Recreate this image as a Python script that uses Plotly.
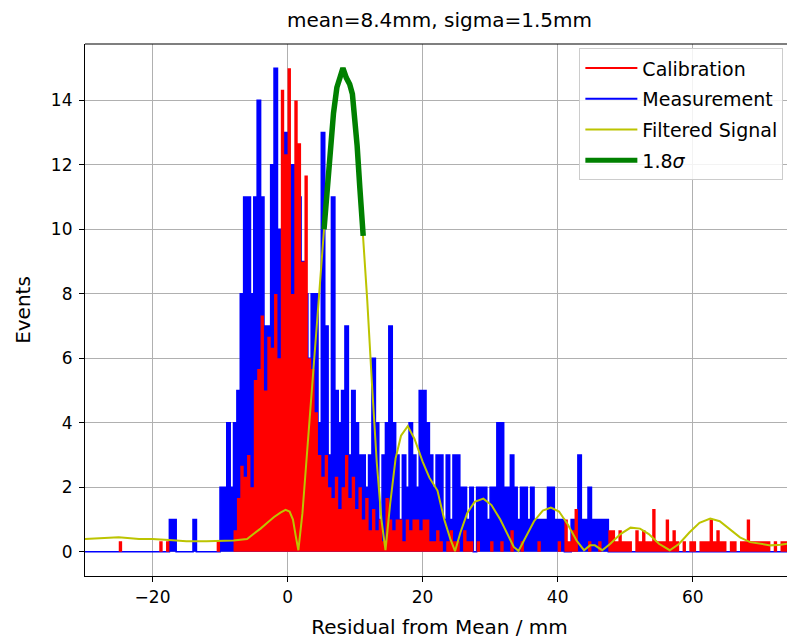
import numpy as np
import plotly.graph_objects as go

# ---------------- data ----------------
BIN_W = 0.5

# Measurement histogram counts, bins of 0.5 mm starting at -18.0 mm
meas_start = -18.0
meas_counts = [
    0, 1, 1, 0, 0, 0, 0, 0, 1, 0,            # -18.0 .. -13.5
    0, 0, 0, 0, 0, 0, 2, 2, 4, 2,            # -13.0 .. -8.5
    4, 5, 8, 11, 11, 8, 11, 14, 11, 7,       # -8.0 .. -3.5
    7, 12, 15, 10, 6, 13, 11, 12, 12, 11,    # -3.0 .. 1.5
    9, 8, 6, 8, 8, 4, 13, 7, 3, 11,          # 2.0 .. 6.5
    5, 4, 5, 7, 3, 5, 4, 3, 3, 2,            # 7.0 .. 11.5
    3, 6, 4, 1, 3, 4, 7, 4, 3, 1,            # 12.0 .. 16.5
    3, 2, 4, 3, 2, 5, 5, 4, 3, 2,            # 17.0 .. 21.5
    3, 3, 1, 3, 1, 3, 3, 2, 2, 1,            # 22.0 .. 26.5
    2, 0, 2, 2, 2, 1, 2, 2, 4, 4,            # 27.0 .. 31.5
    2, 2, 3, 2, 1, 2, 2, 1, 2, 1,            # 32.0 .. 36.5
    1, 1, 1, 2, 2, 1, 1, 1, 0, 0,            # 37.0 .. 41.5
    1, 1, 3, 1, 1, 2, 1, 1, 1, 1,            # 42.0 .. 46.5
    1,                                       # 47.0
]

# Calibration histogram (scaled), bins of 0.5 mm starting at -26.0 mm
cal_start = -26.0
cal_counts = [
    0, 0, 0.33, 0, 0, 0, 0, 0, 0, 0,                          # -26.0 .. -21.5
    0, 0, 0, 0, 0.33, 0, 0.33, 0, 0, 0,                       # -21.0 .. -16.5
    0, 0, 0, 0, 0, 0, 0, 0, 0, 0,                             # -16.0 .. -11.5
    0, 0.33, 0, 0, 0, 0, 0.67, 1.67, 2.67, 2.33,              # -11.0 .. -6.5
    3.0, 2.0, 5.33, 5.67, 7.33, 5.0, 6.67, 6.33, 8.0, 6.0,    # -6.0 .. -1.5
    14.33, 12.33, 15.0, 8.0, 14.0, 12.67, 9.0, 11.67, 6.0, 5.67,  # -1.0 .. 3.5
    4.33, 3.0, 2.33, 3.0, 2.0, 1.67, 2.33, 1.33, 2.0, 3.0,    # 4.0 .. 8.5
    1.67, 2.33, 1.33, 2.0, 1.0, 1.67, 0.67, 1.33, 0.67, 1.0,  # 9.0 .. 13.5
    0.33, 1.67, 1.0, 0.67, 1.0, 1.0, 0.33, 1.0, 0.67, 1.0,    # 14.0 .. 18.5
    1.0, 0.67, 1.0, 1.0, 0.33, 0.33, 0.67, 0.33, 0, 0.33,     # 19.0 .. 23.5
    0.67, 0.33, 0.33, 0, 0.67, 0.33, 0.33, 0, 0.33, 0,        # 24.0 .. 28.5
    0, 0, 0.33, 0, 0, 0.33, 0, 0, 0.67, 0,                    # 29.0 .. 33.5
    0, 0.33, 0, 0, 0, 0, 0.33, 0, 0, 0,                       # 34.0 .. 38.5
    0, 0, 0.33, 0, 1.0, 0.33, 0.67, 1.33, 0, 0,               # 39.0 .. 43.5
    0, 0.33, 0, 0, 0.33, 0, 0, 0.67, 0.67, 0.33,              # 44.0 .. 48.5
    0.67, 0.33, 0.33, 0.33, 0, 0.67, 0.33, 0.67, 0.33, 0.33,  # 49.0 .. 53.5
    1.33, 0.33, 0.33, 0.33, 1.0, 0.33, 0.67, 0.33, 0, 0.33,   # 54.0 .. 58.5
    0, 0.33, 0.33, 0, 0.33, 0.33, 0.33, 1.0, 0.33, 0.67,      # 59.0 .. 63.5
    0.33, 0.33, 0, 0.33, 0.33, 0, 0.33, 0.33, 1.0, 0.33,      # 64.0 .. 68.5
    0.33, 0.33, 0.33, 0.33, 0.33, 0, 0.33, 0, 0.33, 0.33,     # 69.0 .. 73.5
    0.33, 0.67, 0.33, 0.33,                                   # 74.0 .. 75.5
]

# Filtered signal curve
filt_x = [-30, -27, -25, -22, -20, -17, -15, -12, -10, -8, -6, -5, -4, -3, -2, -1,
          -0.3, 0.3, 0.8, 1.2, 1.6, 2.2, 2.8, 3.6, 4.5, 5.4, 5.9, 6.3, 6.8, 7.3, 7.8,
          8.2, 8.7, 9.2, 9.6, 10.0, 10.3, 10.7, 11.2, 11.8, 12.5, 13.2, 13.9, 14.5,
          15.2, 16.0, 16.8, 17.8, 18.8, 20.0, 21.0, 22.2, 23.2, 24.1, 24.8, 25.6,
          26.6, 27.7, 29.0, 30.2, 31.5, 32.6, 33.5, 34.2, 35.2, 36.5, 37.8, 39.0,
          40.2, 41.5, 42.8, 43.9, 44.8, 45.5, 46.6, 47.8, 49.3, 50.8, 52.2, 53.5,
          55.0, 56.6, 58.0, 59.5, 61.0, 62.6, 64.0, 65.5, 67.0, 68.5, 70.0, 71.5,
          73.0, 75.0]
filt_y = [0.40, 0.44, 0.45, 0.40, 0.40, 0.36, 0.33, 0.33, 0.35, 0.35, 0.40, 0.55,
          0.72, 0.90, 1.08, 1.22, 1.30, 1.25, 1.00, 0.50, 0.05, 1.20, 2.80, 4.90,
          7.50, 10.0, 11.3, 12.6, 13.6, 14.4, 14.8, 15.0, 14.7, 14.5, 14.2, 13.4,
          12.6, 11.3, 9.8, 7.8, 5.2, 2.8, 1.0, 0.05, 1.5, 2.9, 3.6, 3.9, 3.5, 2.8,
          2.3, 1.9, 1.0, 0.4, 0.02, 0.6, 1.2, 1.55, 1.65, 1.45, 1.0, 0.55, 0.15,
          0.03, 0.45, 0.95, 1.28, 1.37, 1.25, 0.85, 0.35, 0.05, 0.2, 0.2, 0.05,
          0.25, 0.55, 0.75, 0.72, 0.55, 0.25, 0.05, 0.25, 0.6, 0.9, 1.03, 0.95,
          0.7, 0.45, 0.3, 0.25, 0.2, 0.22, 0.28]

# 1.8 sigma window of the filtered signal
sigma_lo, sigma_hi = 5.4, 11.2

x_ticks = [-20, 0, 20, 40, 60]
y_ticks = [0, 2, 4, 6, 8, 10, 12, 14]

# ---------------- helpers ----------------
X_LO, X_HI = -30.0, 76.0


def step_xy(start, counts):
    n_left = int(round((start - X_LO) / BIN_W))
    full = [0] * n_left + list(counts)
    n_total = int(round((X_HI - X_LO) / BIN_W))
    full += [0] * max(n_total - len(full), 0)
    xs = X_LO + BIN_W * np.arange(len(full) + 1)
    ys = full + [full[-1]]
    return xs, ys


mx, my = step_xy(meas_start, meas_counts)
cx, cy = step_xy(cal_start, cal_counts)

fx = np.array(filt_x, dtype=float)
fy = np.array(filt_y, dtype=float)
mask = (fx >= sigma_lo) & (fx <= sigma_hi)

FONT = "DejaVu Sans, Liberation Sans, Arial, sans-serif"
YEL = "#bcc400"

fig = go.Figure()

fig.add_trace(go.Scatter(
    x=mx, y=my, mode="lines", line=dict(color="blue", width=1.6, shape="hv"),
    fill="tozeroy", fillcolor="blue", showlegend=False, hoverinfo="skip"))
fig.add_trace(go.Scatter(
    x=cx, y=cy, mode="lines", line=dict(color="red", width=0, shape="hv"),
    fill="tozeroy", fillcolor="red", showlegend=False, hoverinfo="skip"))
fig.add_trace(go.Scatter(
    x=fx, y=fy, mode="lines", line=dict(color=YEL, width=2),
    showlegend=False))
fig.add_trace(go.Scatter(
    x=fx[mask], y=fy[mask], mode="lines", line=dict(color="#008000", width=5.5),
    showlegend=False))

# legend entries
for i, (name, col, w) in enumerate([("Calibration", "red", 2), ("Measurement", "blue", 2),
                                    ("Filtered Signal", YEL, 2),
                                    ("1.8<i>σ</i>", "#008000", 5)]):
    fig.add_trace(go.Scatter(x=[None], y=[None], mode="lines", name=name,
                             legendgroup=f"g{i}",
                             line=dict(color=col, width=w)))

# the page adds an 8px body margin, so the figure is laid out 8px up/left
fig.update_layout(
    width=787, height=632,
    margin=dict(l=77, r=1, t=36, b=64, autoexpand=False),
    paper_bgcolor="white", plot_bgcolor="white",
    font=dict(family=FONT, size=17, color="black"),
    title=dict(text="mean=8.4mm, sigma=1.5mm", x=0.5, xref="paper",
               xanchor="center", y=1 - 12 / 632, yref="container",
               yanchor="middle", font=dict(size=20, family=FONT, color="black")),
    legend=dict(x=0.985, xanchor="right", y=0.992, yanchor="top",
                bgcolor="rgba(255,255,255,0.85)", bordercolor="#cccccc",
                borderwidth=1, tracegroupgap=3, itemwidth=52,
                font=dict(size=19, family=FONT, color="black")),
    showlegend=True,
)
fig.update_xaxes(
    range=[-30, 75], tickvals=x_ticks, ticks="outside", ticklen=5,
    tickcolor="black", showline=True, linecolor="black", linewidth=1.2,
    mirror=False, showgrid=True, gridcolor="#b0b0b0", gridwidth=1,
    zeroline=False, automargin=False,
    title=dict(text="Residual from Mean / mm", standoff=14),
    tickfont=dict(size=17))
fig.update_yaxes(
    range=[-0.75, 15.75], tickvals=y_ticks, ticks="outside", ticklen=5,
    tickcolor="black", showline=True, linecolor="black", linewidth=1.2,
    showgrid=True, gridcolor="#b0b0b0", gridwidth=1, zeroline=False,
    automargin=False, ticklabelstandoff=3,
    title=dict(text="Events", standoff=14), tickfont=dict(size=17))

# top spine
fig.add_shape(type="line", xref="paper", yref="paper", x0=0, x1=1, y0=1, y1=1,
              line=dict(color="black", width=1.2))

fig.write_html("out.html")
